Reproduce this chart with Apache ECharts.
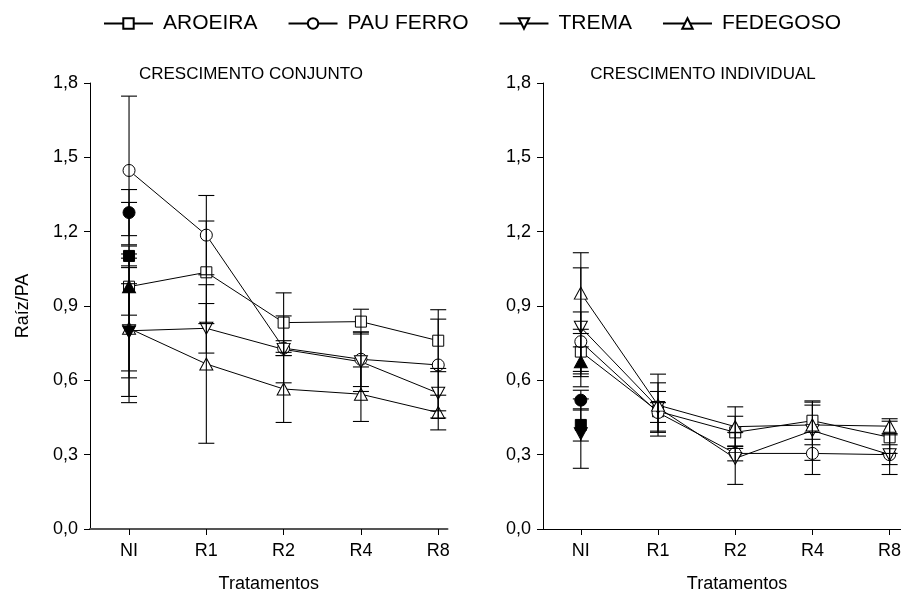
<!DOCTYPE html>
<html>
<head>
<meta charset="utf-8">
<script src="https://cdn.jsdelivr.net/npm/echarts@6/dist/echarts.min.js"></script>
<style>
html,body{margin:0;padding:0;background:#fff;overflow:hidden;}
#chart{width:901px;height:594px;}
</style>
</head>
<body>
<div id="chart"></div>
<script>
const categories = ['NI', 'R1', 'R2', 'R4', 'R8'];
const seriesNames = ['AROEIRA', 'PAU FERRO', 'TREMA', 'FEDEGOSO'];
const panelTitles = ['CRESCIMENTO CONJUNTO', 'CRESCIMENTO INDIVIDUAL'];
const yTickValues = [0, 0.3, 0.6, 0.9, 1.2, 1.5, 1.8];

// CRESCIMENTO CONJUNTO (left panel)
const aroeiraC = [0.978, 1.036, 0.833, 0.837, 0.76];
const aroeiraCErr = [0.34, 0.207, 0.12, 0.05, 0.125];
const pauFerroC = [1.447, 1.186, 0.73, 0.685, 0.662];
const pauFerroCErr = [0.30, 0.16, 0.03, 0.11, 0.185];
const tremaC = [0.80, 0.81, 0.725, 0.675, 0.548];
const tremaCErr = [0.19, 0.10, 0.135, 0.12, 0.10];
const fedegosoC = [0.81, 0.666, 0.565, 0.544, 0.47];
const fedegosoCErr = [0.30, 0.32, 0.135, 0.11, 0.07];
// filled NI markers (circle, square, triangle, inverted triangle)
const niFilledC = [1.277, 1.102, 0.978, 0.795];
const niFilledCErr = [0.093, 0.04, 0.115, 0.26];

// CRESCIMENTO INDIVIDUAL (right panel)
const aroeiraI = [0.716, 0.475, 0.39, 0.437, 0.37];
const aroeiraIErr = [0.09, 0.08, 0.065, 0.075, 0.065];
const pauFerroI = [0.756, 0.47, 0.305, 0.305, 0.30];
const pauFerroIErr = [0.12, 0.04, 0.03, 0.085, 0.04];
const tremaI = [0.814, 0.49, 0.285, 0.397, 0.30];
const tremaIErr = [0.24, 0.10, 0.105, 0.12, 0.08];
const fedegosoI = [0.952, 0.50, 0.413, 0.42, 0.415];
const fedegosoIErr = [0.163, 0.125, 0.08, 0.08, 0.03];
const niFilledI = [0.52, 0.42, 0.675, 0.385];
const niFilledIErr = [0.04, 0.065, 0.06, 0.14];

const FONT = '"Liberation Sans", Arial, Helvetica, sans-serif';
const DOWN_TRI = 'path://M0,0L20,0L10,18Z';
const UP_TRI = 'path://M10,0L20,18L0,18Z';
// order: AROEIRA, PAU FERRO, TREMA, FEDEGOSO
const symbols = ['rect', 'circle', DOWN_TRI, UP_TRI];
const symbolSizes = [[11, 11], [12, 12], [13, 12], [13, 12]];
// filled NI markers order: circle, square, up triangle, down triangle
const filledSymbols = ['circle', 'rect', UP_TRI, DOWN_TRI];
const filledSizes = [[12, 12], [11, 11], [13, 12], [13, 12]];

const chart = echarts.init(document.getElementById('chart'), null, {renderer: 'canvas'});

function fmtY(v) { return v.toFixed(1).replace('.', ','); }

function errRender(params, api) {
  const x = api.value(0), lo = api.value(1), hi = api.value(2);
  const p1 = api.coord([x, hi]);
  const p2 = api.coord([x, lo]);
  const w = 8;
  const st = {stroke: '#000', lineWidth: 1.1};
  return {
    type: 'group',
    children: [
      {type: 'line', shape: {x1: p1[0], y1: p1[1], x2: p2[0], y2: p2[1]}, style: st},
      {type: 'line', shape: {x1: p1[0] - w, y1: p1[1], x2: p1[0] + w, y2: p1[1]}, style: st},
      {type: 'line', shape: {x1: p2[0] - w, y1: p2[1], x2: p2[0] + w, y2: p2[1]}, style: st}
    ]
  };
}

// right panel extends past the picture's right edge (cropped in the original)
const grids = [
  {left: 90, top: 83, width: 357.5, height: 446, outerBoundsMode: 'none', containLabel: false},
  {left: 543, top: 83, width: 388, height: 446, outerBoundsMode: 'none', containLabel: false}
];
const xRanges = [[-0.505, 4.12], [-0.49, 4.536]];

const xAxes = [0, 1].map(i => ({
  type: 'value', gridIndex: i, min: xRanges[i][0], max: xRanges[i][1],
  splitLine: {show: false},
  axisLine: {show: true, onZero: false, lineStyle: {color: i === 0 ? '#555' : '#000', width: i === 0 ? 2 : 1}},
  axisTick: {show: true, length: 6, lineStyle: {color: '#000'}, customValues: categories.map((c, k) => k)},
  axisLabel: {show: true, customValues: categories.map((c, k) => k), formatter: v => categories[Math.round(v)],
    color: '#000', fontSize: 18, fontFamily: FONT, margin: 13},
  name: 'Tratamentos', nameLocation: 'middle', nameGap: 46,
  nameTextStyle: {color: '#000', fontSize: 18, fontFamily: FONT}
}));

const yAxes = [0, 1].map(i => ({
  type: 'value', gridIndex: i, min: 0, max: 1.8, interval: 0.3,
  splitLine: {show: false},
  axisLine: {show: true, onZero: false, lineStyle: {color: '#000'}},
  axisTick: {show: true, length: 6, lineStyle: {color: '#000'}},
  axisLabel: {color: '#000', fontSize: 18, fontFamily: FONT, margin: 12, formatter: fmtY},
  name: i === 0 ? 'Raíz/PA' : '', nameLocation: 'middle', nameGap: 58,
  nameTextStyle: {color: '#000', fontSize: 18, fontFamily: FONT}
}));

const panelData = [
  {vals: [aroeiraC, pauFerroC, tremaC, fedegosoC], errs: [aroeiraCErr, pauFerroCErr, tremaCErr, fedegosoCErr], nf: niFilledC, nfe: niFilledCErr},
  {vals: [aroeiraI, pauFerroI, tremaI, fedegosoI], errs: [aroeiraIErr, pauFerroIErr, tremaIErr, fedegosoIErr], nf: niFilledI, nfe: niFilledIErr}
];

const series = [];
panelData.forEach((pd, p) => {
  pd.vals.forEach((arr, s) => {
    series.push({
      type: 'line', name: seriesNames[s], xAxisIndex: p, yAxisIndex: p,
      data: arr.map((v, k) => [k, v]),
      symbol: symbols[s], symbolSize: symbolSizes[s], showAllSymbol: true,
      lineStyle: {color: '#000', width: 1},
      itemStyle: {color: '#fff', borderColor: '#000', borderWidth: 1},
      emphasis: {disabled: true}, animation: false, clip: false, z: 2
    });
    series.push({
      type: 'custom', name: seriesNames[s] + ' err', xAxisIndex: p, yAxisIndex: p,
      data: arr.map((v, k) => [k, v - pd.errs[s][k], v + pd.errs[s][k]]),
      renderItem: errRender, animation: false, clip: false, z: 3, silent: true
    });
  });
  pd.nf.forEach((v, s) => {
    series.push({
      type: 'scatter', name: 'NI filled ' + s, xAxisIndex: p, yAxisIndex: p,
      data: [[0, v]], symbol: filledSymbols[s], symbolSize: filledSizes[s],
      itemStyle: {color: '#000', borderColor: '#000', borderWidth: 1, opacity: 1},
      emphasis: {disabled: true}, animation: false, z: 4, silent: true
    });
    series.push({
      type: 'custom', name: 'NI filled err ' + s, xAxisIndex: p, yAxisIndex: p,
      data: [[0, v - pd.nfe[s], v + pd.nfe[s]]],
      renderItem: errRender, animation: false, clip: false, z: 3, silent: true
    });
  });
});

chart.setOption({
  backgroundColor: '#fff',
  animation: false,
  title: [
    {text: panelTitles[0], left: 246, top: 61, textAlign: 'center',
      textStyle: {color: '#000', fontSize: 17, fontWeight: 'normal', fontFamily: FONT}},
    {text: panelTitles[1], left: 698, top: 61, textAlign: 'center',
      textStyle: {color: '#000', fontSize: 17, fontWeight: 'normal', fontFamily: FONT}}
  ],
  legend: {
    data: seriesNames, top: 8, left: 98, itemWidth: 49, itemHeight: 13, itemGap: 30,
    textStyle: {color: '#000', fontSize: 21, fontFamily: FONT, padding: [0, 0, 0, 5]},
    selectedMode: false
  },
  grid: grids,
  xAxis: xAxes,
  yAxis: yAxes,
  series: series
});
</script>
</body>
</html>
